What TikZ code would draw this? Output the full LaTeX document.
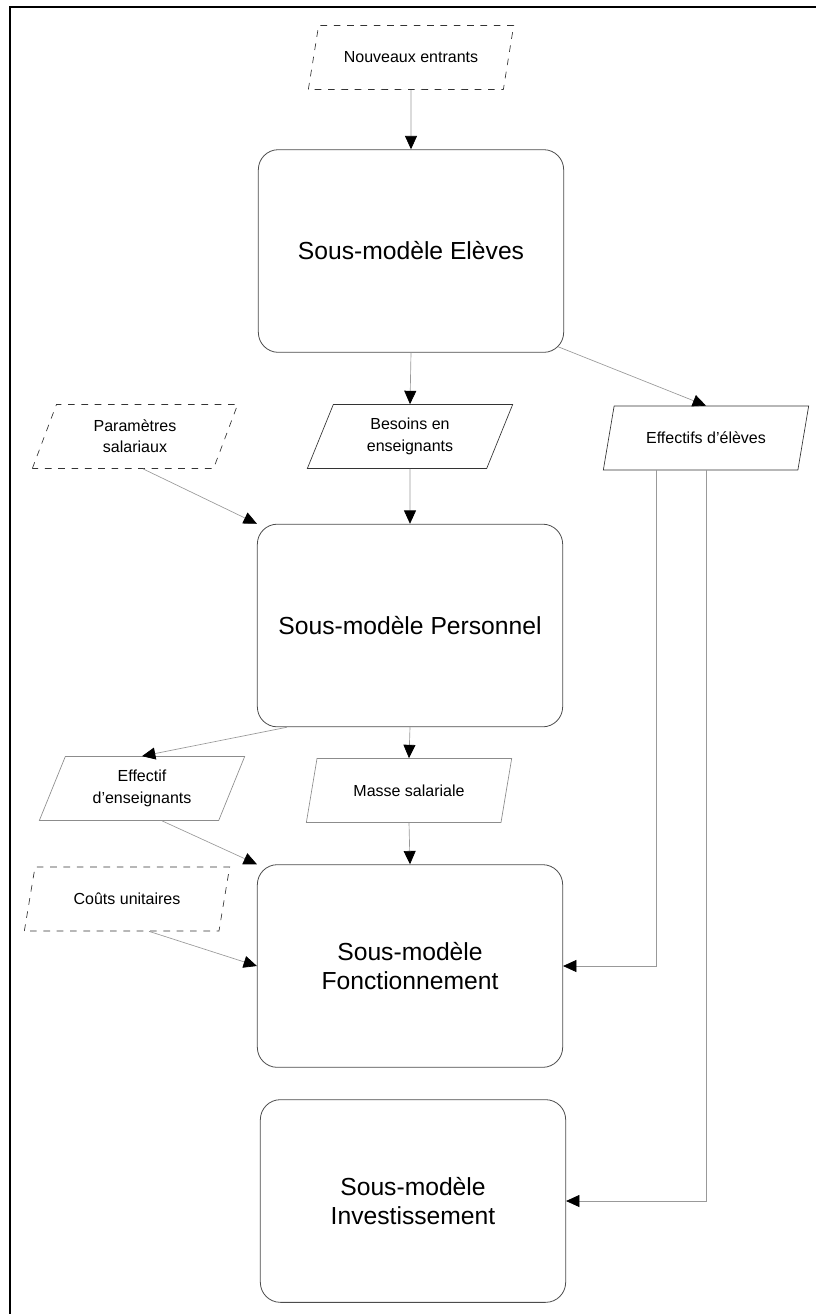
\documentclass[tikz,border=0pt]{standalone}
\usepackage{fontspec}
\setmainfont{Liberation Sans}
\usetikzlibrary{shapes,arrows,positioning,calc}
\usetikzlibrary{arrows.meta}

\begin{document}
\begin{tikzpicture}[x=0.75pt, y=-0.75pt,
    model/.style={rectangle, draw=black!70, line width=0.6pt, rounded corners=15pt, minimum width=229pt, minimum height=152pt, align=center, font=\fontsize{18.5}{22}\selectfont},
    data/.style={trapezium, trapezium left angle=58, trapezium right angle=122, trapezium stretches body, draw=black!80, line width=0.5pt, minimum width=154pt, minimum height=48pt, inner sep=2pt, align=center, font=\fontsize{12}{16}\selectfont},
    given/.style={data, dash pattern=on 5pt off 5pt},
    faded/.style={data, draw=black!45},
    link/.style={draw=black!40, line width=0.5pt, -{Triangle[width=9pt, length=10pt, color=black, fill=black]}}
]
\useasboundingbox (0,0) rectangle (816,1314);

% Frame - top and left edges
\draw[line width=1.5pt] (816,7) -- (10,7) -- (10,1314);

% Inputs and sub-models
\node[given] (entrants) at (411,57.5) {Nouveaux entrants};
\node[model] (eleves) at (411,251) {Sous-modèle Elèves};

\node[given] (param) at (135,436.5) {Paramètres\\salariaux};
\node[data] (besoins) at (410,436.5) {Besoins en\\enseignants};
\node[data] (effeleves) at (706,438) {Effectifs d'élèves};

\node[model] (personnel) at (410,625.5) {Sous-modèle Personnel};

\node[faded] (effens) at (142,788.5) {Effectif\\d'enseignants};
\node[faded] (masse) at (409,790.5) {Masse salariale};
\node[given] (couts) at (127,899) {Coûts unitaires};

\node[model] (fonct) at (410,966) {Sous-modèle\\Fonctionnement};
\node[model] (invest) at (413,1201) {Sous-modèle\\Investissement};

% Flows between blocks
\draw[link] (entrants.south) -- (eleves.north);
\draw[link] (eleves.south) -- (besoins.north);
\draw[link] ($(eleves.south east)+(-6,-6)$) -- (effeleves.north);
\draw[link] (besoins.south) -- (personnel.north);
\draw[link] ($(param.south)+(8,0)$) -- (personnel.north west);
\draw[link] (personnel.south) -- (masse.north);
\draw[link] ($(personnel.south west)+(30,0)$) -- (effens.north);
\draw[link] ($(effens.south)+(20,0)$) -- (fonct.north west);
\draw[link] (masse.south) -- (fonct.north);
\draw[link] ($(couts.south)+(22,0)$) -- (fonct.west);

% Pupil numbers feed the last two sub-models
\draw[link] ($(effeleves.south)+(-50,0)$) |- (fonct.east);
\draw[link] (effeleves.south) |- (invest.east);

\end{tikzpicture}
\end{document}
